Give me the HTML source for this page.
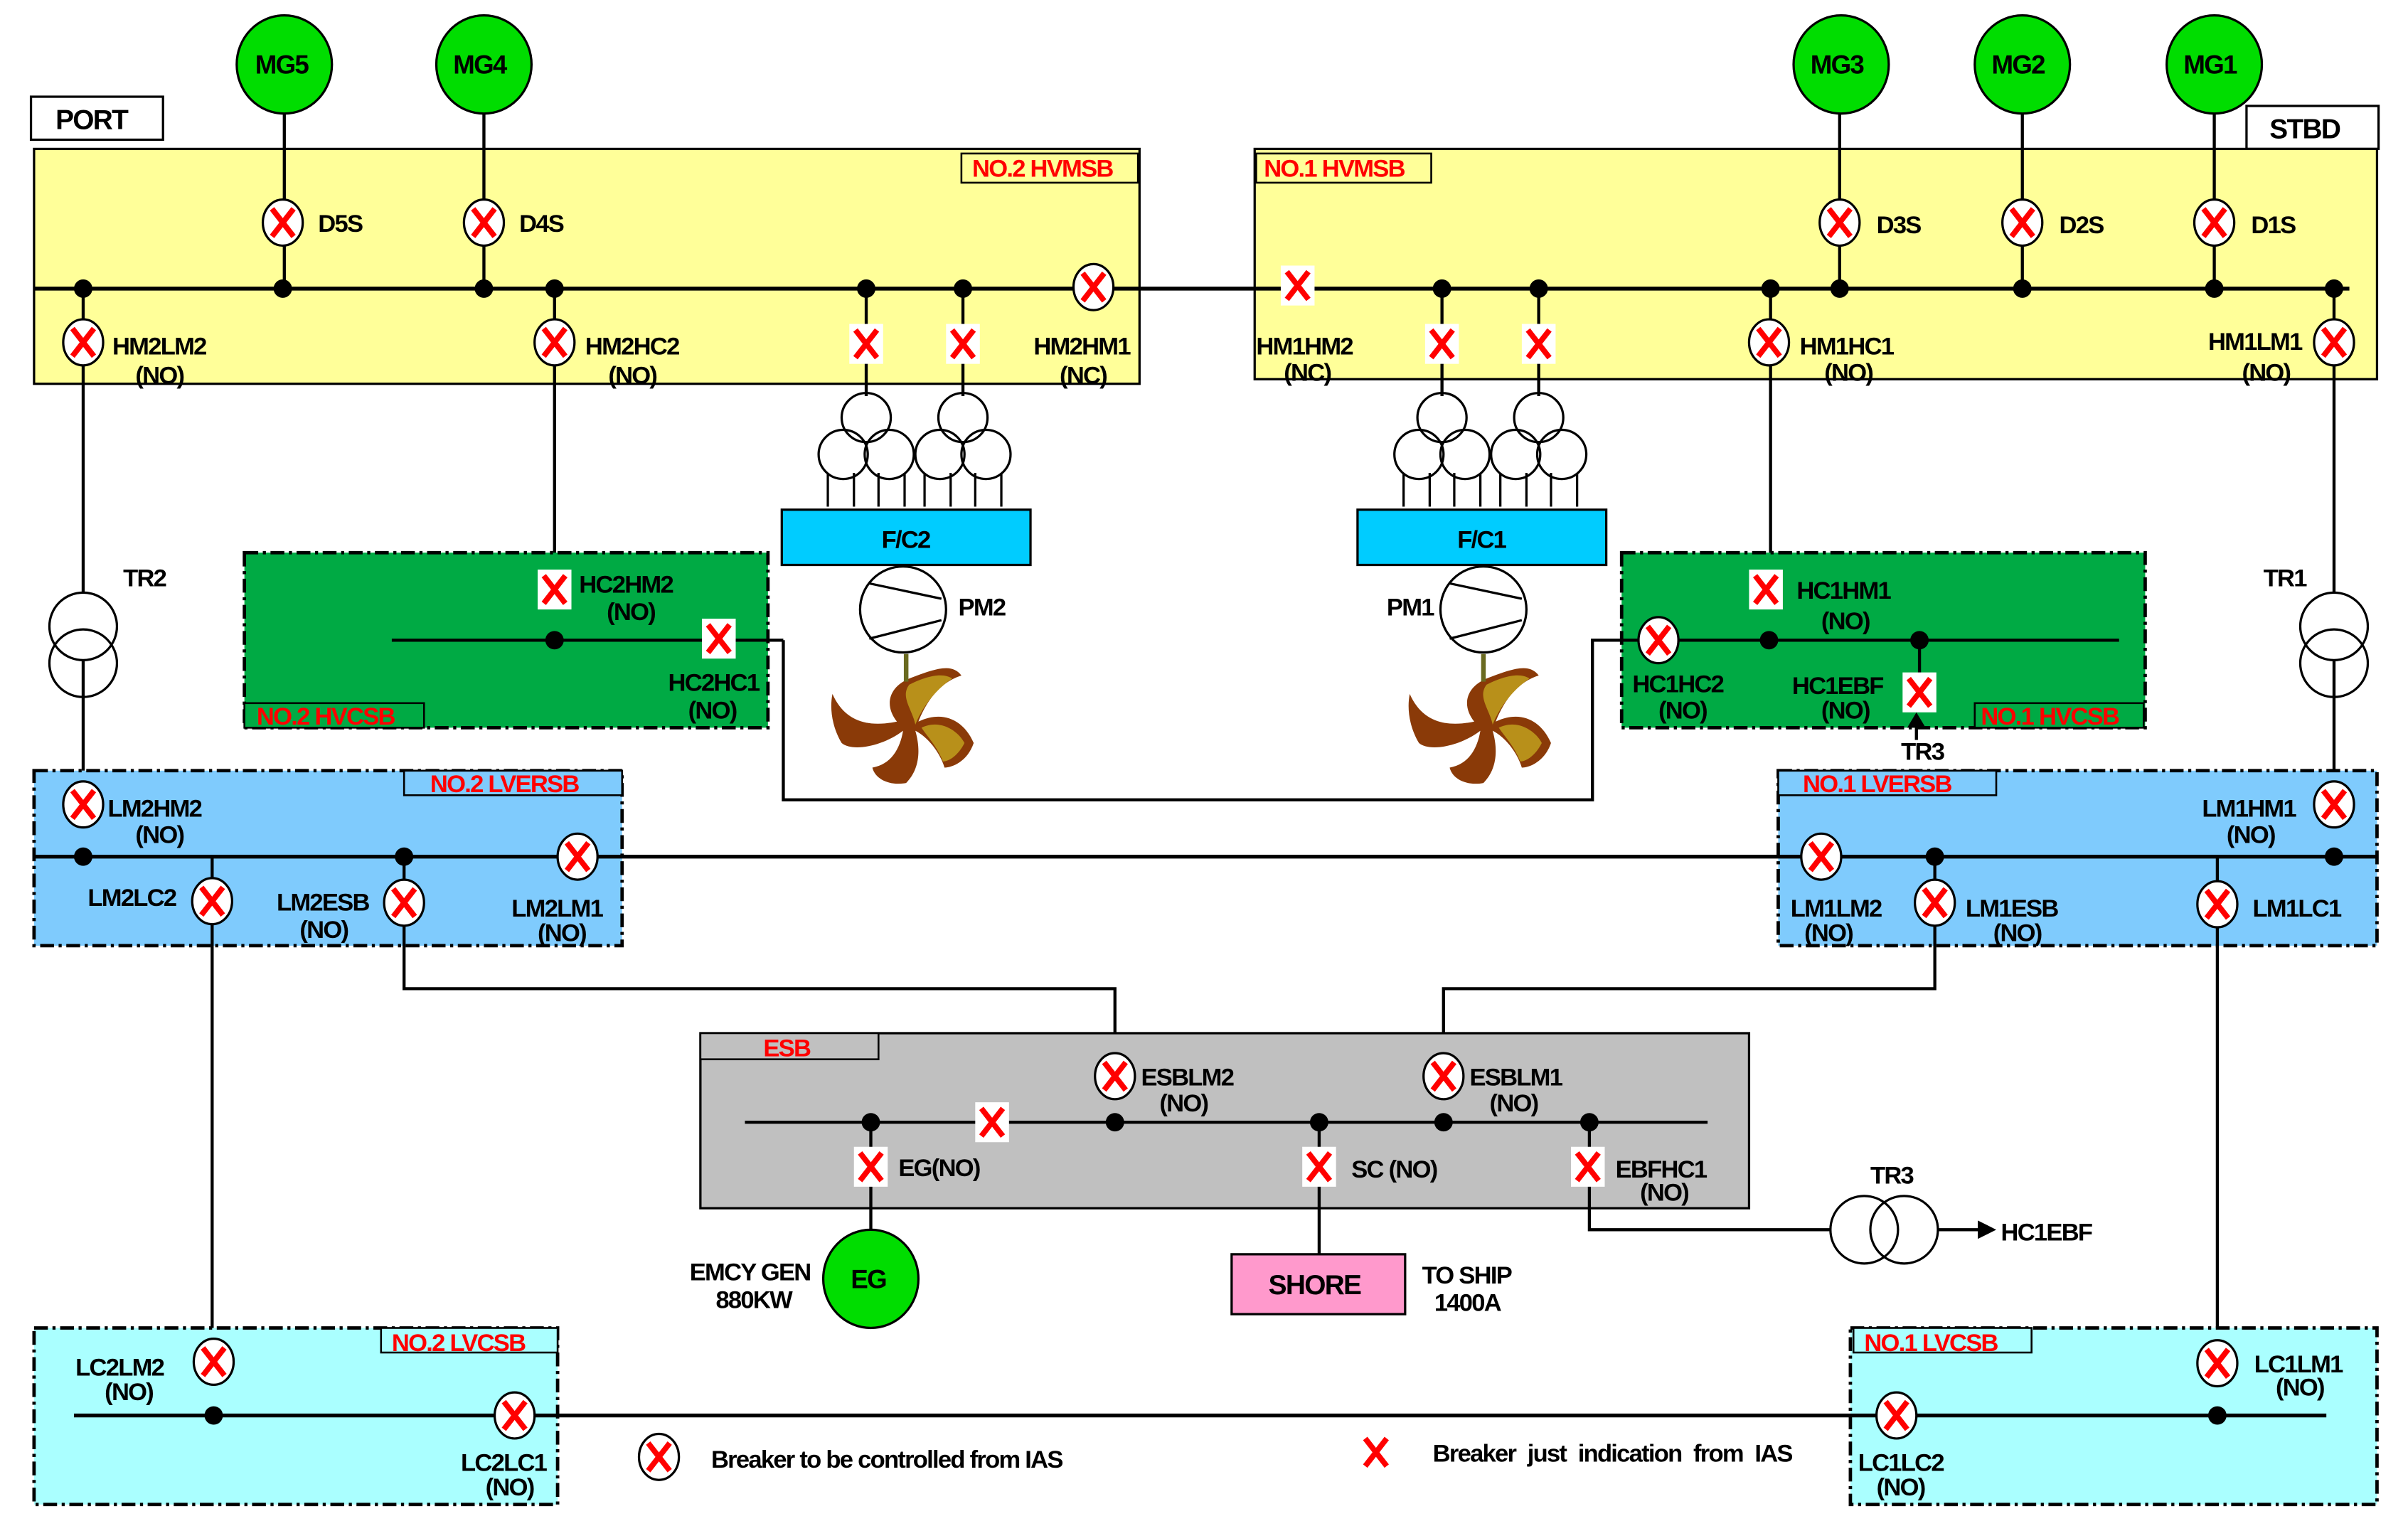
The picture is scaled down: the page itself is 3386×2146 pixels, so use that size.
<!DOCTYPE html>
<html><head><meta charset="utf-8"><style>
html,body{margin:0;padding:0;background:#fff;}
svg{display:block;}
text{font-family:"Liberation Sans",sans-serif;font-weight:bold;font-size:16px;fill:#000;letter-spacing:-0.8px;}
.r{fill:#ff0000;}
.ln{stroke:#000;stroke-width:2;fill:none;}
.dd{stroke:#000;stroke-width:2.2;stroke-dasharray:9,3,2,3;}
</style></head><body>
<svg width="3386" height="2146" viewBox="0 0 1568 994" xmlns="http://www.w3.org/2000/svg">
<defs>
<g id="b"><ellipse rx="13" ry="15" fill="#fff" stroke="#000" stroke-width="1.5"/><path d="M-7,-9 L7,9 M7,-9 L-7,9" stroke="#f00" stroke-width="3.6"/></g>
<g id="i"><rect x="-11" y="-13" width="22" height="26" fill="#fff"/><path d="M-7,-9 L7,9 M7,-9 L-7,9" stroke="#f00" stroke-width="3.6"/></g>
<g id="xi"><path d="M-7,-9 L7,9 M7,-9 L-7,9" stroke="#f00" stroke-width="3.6"/></g>
<g id="tr3w" fill="none" stroke="#000" stroke-width="1.5"><circle cx="0" cy="-14" r="16"/><circle cx="-15" cy="10" r="16"/><circle cx="15" cy="10" r="16"/><path d="M-25,22 V44 M-8,22 V44 M8,22 V44 M25,22 V44"/></g>
<g id="prop"><path d="M2,-28 C20,-35 30,-38 36,-30 C20,-25 12,-10 8,0 C25,-8 38,0 44,14 C40,26 30,30 25,30 C22,20 14,10 6,6 C10,20 8,32 0,40 C-10,42 -20,38 -22,30 C-10,28 -4,18 -2,6 C-15,16 -35,20 -42,14 C-48,4 -50,-8 -48,-18 C-40,0 -25,4 -6,0 C-14,-10 -12,-22 2,-28 Z" fill="#8a3a08"/><path d="M2,-24 C14,-30 24,-32 30,-28 C18,-20 10,-8 6,2 C4,-8 -4,-16 2,-24 Z M10,4 C22,-2 34,6 38,14 C34,22 28,26 24,26 C20,16 14,10 10,4 Z" fill="#b8901a"/><rect x="-1.5" y="-44" width="3" height="18" fill="#6a6a20"/></g>
</defs>

<rect x="20" y="63" width="86" height="28" fill="#fff" stroke="#000" stroke-width="1.5"/><text x="36" y="84" style="font-size:18px">PORT</text>
<rect x="1463" y="69" width="86" height="28" fill="#fff" stroke="#000" stroke-width="1.5"/><text x="1478" y="90" style="font-size:18px">STBD</text>

<rect x="22" y="97" width="720" height="153" fill="#ffff99" stroke="#000" stroke-width="1.5"/>
<rect x="817" y="97" width="731" height="150" fill="#ffff99" stroke="#000" stroke-width="1.5"/>
<rect x="626" y="100" width="115" height="19" fill="#ffff99" stroke="#000" stroke-width="1.2"/><text x="633" y="115" class="r">NO.2 HVMSB</text>
<rect x="818" y="100" width="114" height="19" fill="#ffff99" stroke="#000" stroke-width="1.2"/><text x="823" y="115" class="r">NO.1 HVMSB</text>

<g stroke="#000" stroke-width="2">
<line x1="185" y1="72" x2="185" y2="188"/><line x1="315" y1="72" x2="315" y2="188"/>
<line x1="1198" y1="72" x2="1198" y2="188"/><line x1="1317" y1="72" x2="1317" y2="188"/><line x1="1442" y1="72" x2="1442" y2="188"/>
</g>
<g fill="#00dd00" stroke="#000" stroke-width="1.5">
<ellipse cx="185" cy="42" rx="31" ry="32"/><ellipse cx="315" cy="42" rx="31" ry="32"/>
<ellipse cx="1199" cy="42" rx="31" ry="32"/><ellipse cx="1317" cy="42" rx="31" ry="32"/><ellipse cx="1442" cy="42" rx="31" ry="32"/>
</g>
<text x="166" y="48" style="font-size:17px">MG5</text><text x="295" y="48" style="font-size:17px">MG4</text>
<text x="1179" y="48" style="font-size:17px">MG3</text><text x="1297" y="48" style="font-size:17px">MG2</text><text x="1422" y="48" style="font-size:17px">MG1</text>

<line class="ln" x1="22" y1="188" x2="1530" y2="188" style="stroke-width:2.5"/>
<g stroke="#000" stroke-width="2">
<line x1="54" y1="188" x2="54" y2="502"/><line x1="361" y1="188" x2="361" y2="417"/>
<line x1="564" y1="188" x2="564" y2="258"/><line x1="627" y1="188" x2="627" y2="258"/>
<line x1="939" y1="188" x2="939" y2="258"/><line x1="1002" y1="188" x2="1002" y2="258"/>
<line x1="1153" y1="188" x2="1153" y2="417"/><line x1="1520" y1="188" x2="1520" y2="558"/>
</g>
<g fill="#000">
<circle cx="54" cy="188" r="6"/><circle cx="184" cy="188" r="6"/><circle cx="315" cy="188" r="6"/><circle cx="361" cy="188" r="6"/><circle cx="564" cy="188" r="6"/><circle cx="627" cy="188" r="6"/>
<circle cx="939" cy="188" r="6"/><circle cx="1002" cy="188" r="6"/><circle cx="1153" cy="188" r="6"/><circle cx="1198" cy="188" r="6"/><circle cx="1317" cy="188" r="6"/><circle cx="1442" cy="188" r="6"/><circle cx="1520" cy="188" r="6"/>
</g>
<use href="#b" x="184" y="145"/><text x="207" y="151">D5S</text>
<use href="#b" x="315" y="145"/><text x="338" y="151">D4S</text>
<use href="#b" x="1198" y="145"/><text x="1222" y="152">D3S</text>
<use href="#b" x="1317" y="145"/><text x="1341" y="152">D2S</text>
<use href="#b" x="1442" y="145"/><text x="1466" y="152">D1S</text>
<use href="#b" x="54" y="223"/><text x="73" y="231">HM2LM2</text><text x="88" y="250">(NO)</text>
<use href="#b" x="361" y="223"/><text x="381" y="231">HM2HC2</text><text x="396" y="250">(NO)</text>
<use href="#i" x="564" y="224"/><use href="#i" x="627" y="224"/>
<use href="#b" x="712" y="187"/><text x="673" y="231">HM2HM1</text><text x="690" y="250">(NC)</text>
<use href="#i" x="845" y="186"/><text x="818" y="231">HM1HM2</text><text x="836" y="248">(NC)</text>
<use href="#i" x="939" y="224"/><use href="#i" x="1002" y="224"/>
<use href="#b" x="1152" y="223"/><text x="1172" y="231">HM1HC1</text><text x="1188" y="248">(NO)</text>
<use href="#b" x="1520" y="223"/><text x="1438" y="228">HM1LM1</text><text x="1460" y="248">(NO)</text>

<use href="#tr3w" x="564" y="286"/><use href="#tr3w" x="627" y="286"/>
<use href="#tr3w" x="939" y="286"/><use href="#tr3w" x="1002" y="286"/>
<rect x="509" y="332" width="162" height="36" fill="#00ccff" stroke="#000" stroke-width="1.5"/><text x="574" y="357">F/C2</text>
<rect x="884" y="332" width="162" height="36" fill="#00ccff" stroke="#000" stroke-width="1.5"/><text x="949" y="357">F/C1</text>
<g fill="#fff" stroke="#000" stroke-width="1.5">
<circle cx="588" cy="397" r="28"/><circle cx="966" cy="397" r="28"/>
</g>
<path d="M566,380 L613,390 M566,416 L613,404 M944,380 L991,390 M944,416 L991,404" stroke="#000" stroke-width="1.5"/>
<text x="624" y="401">PM2</text><text x="903" y="401">PM1</text>
<use href="#prop" x="590" y="470"/><use href="#prop" x="966" y="470"/>

<rect x="159" y="360" width="341" height="114" fill="#00aa44" class="dd"/>
<rect x="1056" y="360" width="341" height="114" fill="#00aa44" class="dd"/>
<rect x="159" y="458" width="117" height="16" fill="#00aa44" stroke="#000" stroke-width="1.2"/><text x="167" y="472" class="r">NO.2 HVCSB</text>
<rect x="1286" y="458" width="110" height="16" fill="#00aa44" stroke="#000" stroke-width="1.2"/><text x="1290" y="472" class="r">NO.1 HVCSB</text>
<line class="ln" x1="255" y1="417" x2="510" y2="417"/>
<polyline class="ln" points="510,417 510,521 1037,521 1037,417 1380,417"/>
<line class="ln" x1="1250" y1="417" x2="1250" y2="440"/>
<circle cx="361" cy="417" r="6"/><circle cx="1152" cy="417" r="6"/><circle cx="1250" cy="417" r="6"/>
<use href="#i" x="361" y="384"/><text x="377" y="386">HC2HM2</text><text x="395" y="404">(NO)</text>
<use href="#i" x="468" y="416"/><text x="435" y="450">HC2HC1</text><text x="448" y="468">(NO)</text>
<use href="#i" x="1150" y="384"/><text x="1170" y="390">HC1HM1</text><text x="1186" y="410">(NO)</text>
<use href="#b" x="1080" y="417"/><text x="1063" y="451">HC1HC2</text><text x="1080" y="468">(NO)</text>
<use href="#i" x="1250" y="451"/><text x="1167" y="452">HC1EBF</text><text x="1186" y="468">(NO)</text>
<line class="ln" x1="1248" y1="482" x2="1248" y2="472"/><path d="M1242,474 L1248,464 L1254,474 Z"/>
<text x="1238" y="495">TR3</text>

<g fill="none" stroke="#000" stroke-width="1.5">
<circle cx="54" cy="408" r="22" fill="#fff"/><circle cx="54" cy="432" r="22"/>
<circle cx="1520" cy="408" r="22" fill="#fff"/><circle cx="1520" cy="432" r="22"/>
</g>
<text x="80" y="382">TR2</text><text x="1474" y="382">TR1</text>

<rect x="22" y="502" width="383" height="114" fill="#7fcbfd" class="dd"/>
<rect x="1158" y="502" width="390" height="114" fill="#7fcbfd" class="dd"/>
<rect x="263" y="502" width="142" height="16" fill="#7fcbfd" stroke="#000" stroke-width="1.2"/><text x="280" y="516" class="r">NO.2 LVERSB</text>
<rect x="1158" y="502" width="142" height="16" fill="#7fcbfd" stroke="#000" stroke-width="1.2"/><text x="1174" y="516" class="r">NO.1 LVERSB</text>
<line class="ln" x1="22" y1="558" x2="1548" y2="558" style="stroke-width:2.5"/>
<g stroke="#000" stroke-width="2" fill="none">
<line x1="138" y1="558" x2="138" y2="922"/><line x1="1444" y1="558" x2="1444" y2="922"/>
<polyline points="263,558 263,644 726,644 726,731"/><polyline points="1260,558 1260,644 940,644 940,731"/>
</g>
<circle cx="54" cy="558" r="6"/><circle cx="263" cy="558" r="6"/><circle cx="1260" cy="558" r="6"/><circle cx="1520" cy="558" r="6"/>
<use href="#b" x="54" y="524"/><text x="70" y="532">LM2HM2</text><text x="88" y="549">(NO)</text>
<use href="#b" x="138" y="587"/><text x="57" y="590">LM2LC2</text>
<use href="#b" x="263" y="588"/><text x="180" y="593">LM2ESB</text><text x="195" y="611">(NO)</text>
<use href="#b" x="376" y="558"/><text x="333" y="597">LM2LM1</text><text x="350" y="613">(NO)</text>
<use href="#b" x="1186" y="558"/><text x="1166" y="597">LM1LM2</text><text x="1175" y="613">(NO)</text>
<use href="#b" x="1260" y="588"/><text x="1280" y="597">LM1ESB</text><text x="1298" y="613">(NO)</text>
<use href="#b" x="1520" y="524"/><text x="1434" y="532">LM1HM1</text><text x="1450" y="549">(NO)</text>
<use href="#b" x="1444" y="589"/><text x="1467" y="597">LM1LC1</text>

<rect x="456" y="673" width="683" height="114" fill="#c0c0c0" stroke="#000" stroke-width="1.5"/>
<rect x="456" y="673" width="116" height="17" fill="#c0c0c0" stroke="#000" stroke-width="1.2"/><text x="497" y="688" class="r">ESB</text>
<line class="ln" x1="485" y1="731" x2="1112" y2="731"/>
<g stroke="#000" stroke-width="2" fill="none">
<line x1="567" y1="731" x2="567" y2="802"/><line x1="859" y1="731" x2="859" y2="817"/>
<polyline points="1035,731 1035,801 1192,801"/><line x1="1262" y1="801" x2="1290" y2="801"/>
</g>
<path d="M1288,795 L1300,801 L1288,807 Z"/>
<circle cx="567" cy="731" r="6"/><circle cx="726" cy="731" r="6"/><circle cx="859" cy="731" r="6"/><circle cx="940" cy="731" r="6"/><circle cx="1035" cy="731" r="6"/>
<use href="#i" x="646" y="731"/>
<use href="#b" x="726" y="701"/><text x="743" y="707">ESBLM2</text><text x="755" y="724">(NO)</text>
<use href="#b" x="940" y="701"/><text x="957" y="707">ESBLM1</text><text x="970" y="724">(NO)</text>
<use href="#i" x="567" y="760"/><text x="585" y="766">EG(NO)</text>
<use href="#i" x="859" y="760"/><text x="880" y="767">SC (NO)</text>
<use href="#i" x="1034" y="760"/><text x="1052" y="767">EBFHC1</text><text x="1068" y="782">(NO)</text>
<ellipse cx="567" cy="833" rx="31" ry="32" fill="#00dd00" stroke="#000" stroke-width="1.5"/><text x="554" y="839" style="font-size:17px">EG</text>
<text x="449" y="834">EMCY GEN</text><text x="466" y="852">880KW</text>
<rect x="802" y="817" width="113" height="39" fill="#ff99cc" stroke="#000" stroke-width="1.5"/><text x="826" y="843" style="font-size:18px">SHORE</text>
<text x="926" y="836">TO SHIP</text><text x="934" y="854">1400A</text>
<g fill="none" stroke="#000" stroke-width="1.5"><circle cx="1214" cy="801" r="22"/><circle cx="1240" cy="801" r="22"/></g>
<text x="1218" y="771">TR3</text><text x="1303" y="808">HC1EBF</text>

<rect x="22" y="865" width="341" height="115" fill="#aaffff" class="dd"/>
<rect x="1205" y="865" width="343" height="115" fill="#aaffff" class="dd"/>
<rect x="248" y="865" width="115" height="16" fill="#aaffff" stroke="#000" stroke-width="1.2"/><text x="255" y="880" class="r">NO.2 LVCSB</text>
<rect x="1207" y="865" width="116" height="16" fill="#aaffff" stroke="#000" stroke-width="1.2"/><text x="1214" y="880" class="r">NO.1 LVCSB</text>
<line class="ln" x1="48" y1="922" x2="1515" y2="922" style="stroke-width:2.5"/>
<circle cx="139" cy="922" r="6"/><circle cx="1444" cy="922" r="6"/>
<use href="#b" x="139" y="887"/><text x="49" y="896">LC2LM2</text><text x="68" y="912">(NO)</text>
<use href="#b" x="335" y="922"/><text x="300" y="958">LC2LC1</text><text x="316" y="974">(NO)</text>
<use href="#b" x="1235" y="922"/><text x="1210" y="958">LC1LC2</text><text x="1222" y="974">(NO)</text>
<use href="#b" x="1444" y="888"/><text x="1468" y="894">LC1LM1</text><text x="1482" y="909">(NO)</text>

<use href="#b" x="429" y="949"/><text x="463" y="956">Breaker to be controlled from IAS</text>
<use href="#xi" x="896" y="946"/><text x="933" y="952" style="word-spacing:4px">Breaker just indication  from IAS</text>
</svg>
</body></html>
